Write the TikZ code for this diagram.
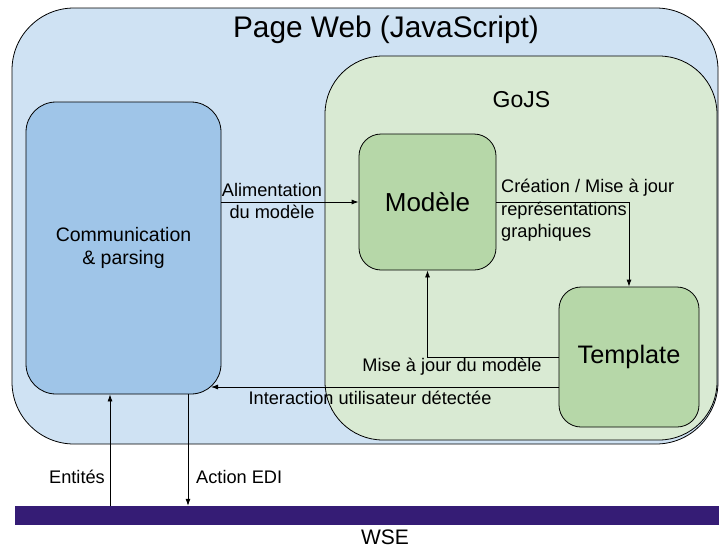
\documentclass[tikz,border=0pt]{standalone}
\usepackage{fontspec}
\setmainfont{Liberation Sans}
\usetikzlibrary{arrows.meta}
\definecolor{outerblue}{HTML}{CFE2F3}
\definecolor{commblue}{HTML}{9FC5E8}
\definecolor{gojsgreen}{HTML}{D9EAD3}
\definecolor{boxgreen}{HTML}{B6D7A8}
\definecolor{wsepurple}{HTML}{351C75}
\tikzset{
  container/.style={draw=black, line width=0.8pt, inner sep=0pt},
  edgelabel/.style={font=\fontsize{18.2}{22.5}\selectfont, inner sep=0pt, align=left},
  arr/.style={draw=black, line width=0.8pt, -{Latex[length=7pt,width=5pt]}},
}
\begin{document}
\begin{tikzpicture}[x=1pt,y=-1pt]
\useasboundingbox (0,0) rectangle (719,546);
% outer page
\node[container, fill=outerblue, rounded corners=62pt, minimum width=706pt, minimum height=436pt] (page) at (365,226) {};
\node[font=\fontsize{29.8}{34}\selectfont, inner sep=0pt] (pagetitle) at (386,30) {Page Web (JavaScript)};
% GoJS container
\node[container, fill=gojsgreen, rounded corners=58pt, minimum width=392pt, minimum height=384pt] (gojs) at (521,248) {};
\node[font=\fontsize{23}{27}\selectfont, inner sep=0pt] (gojstitle) at (521.5,100) {GoJS};
% communication
\node[container, fill=commblue, rounded corners=30pt, minimum width=195pt, minimum height=292pt, align=center, font=\fontsize{19.5}{23}\selectfont] (comm) at (123.5,248) {Communication\\\& parsing};
% modele
\node[container, fill=boxgreen, rounded corners=22pt, minimum width=137pt, minimum height=136pt, font=\fontsize{26}{30}\selectfont] (modele) at (427.5,202) {Modèle};
% template
\node[container, fill=boxgreen, rounded corners=22pt, minimum width=140pt, minimum height=140pt, font=\fontsize{25.3}{30}\selectfont] (template) at (629,357) {Template};
% WSE bar
\node[fill=wsepurple, inner sep=0pt, minimum width=704pt, minimum height=19pt] (bar) at (367,515.5) {};
\node[font=\fontsize{21}{25}\selectfont, inner sep=0pt, anchor=base] (wse) at (385,544.5) {WSE};

% connectors
\draw[arr] (comm.east |- modele.west) -- (modele.west);
\node[edgelabel, align=center] (alilabel) at (272,201) {Alimentation\\du modèle};

\draw[arr] (modele.east) -- (modele.east -| template.north) -- (template.north);
\node[edgelabel, anchor=north west] (crealabel) at (501,179) {Création / Mise à jour\\représentations\\graphiques};

\draw[arr] (template.west) -| (modele.south);
\node[edgelabel] (majlabel) at (452,367) {Mise à jour du modèle};

\coordinate (intstart) at (559,387);
\coordinate (intend) at (211,387);
\draw[arr] (intstart) -- (intend);
\node[edgelabel] (intlabel) at (370,398) {Interaction utilisateur détectée};

\coordinate (entbot) at (110,506);
\draw[arr] (entbot) -- (entbot |- comm.south);
\node[edgelabel, anchor=east] (entlabel) at (105,477) {Entités};

\coordinate (acttop) at (188,394);
\draw[arr] (acttop) -- (acttop |- bar.north);
\node[edgelabel, anchor=west] (actlabel) at (196,477) {Action EDI};
\end{tikzpicture}
\end{document}
